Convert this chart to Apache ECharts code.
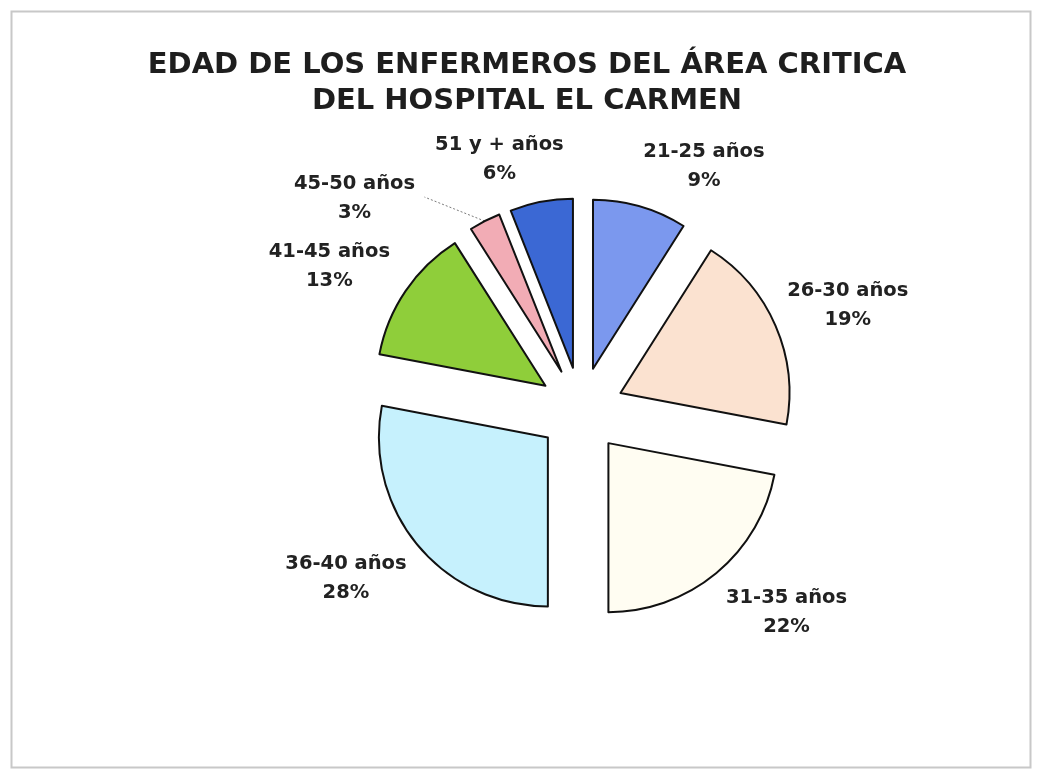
<!DOCTYPE html>
<html>
<head>
<meta charset="utf-8">
<script src="https://cdn.jsdelivr.net/npm/echarts@6/dist/echarts.min.js"></script>
<style>
  html, body { margin: 0; padding: 0; background: #fff; }
  #main { width: 1037px; height: 770px; }
</style>
</head>
<body>
<div id="main"></div>
<script>
// datos
const categories = ['21-25 años', '26-30 años', '31-35 años', '36-40 años', '41-45 años', '45-50 años', '51 y + años'];
const percentages = [9, 19, 22, 28, 13, 3, 6];
const chartTitle = 'EDAD DE LOS ENFERMEROS DEL ÁREA CRITICA\nDEL HOSPITAL EL CARMEN';

// estilo de cada porcion
const sliceColors = ['#7b98ee', '#fbe2d0', '#fffdf2', '#c6f1fd', '#8fce3a', '#f2acb5', '#3b68d4'];
// ajuste fino de las etiquetas (px)
const labelShiftX = [-9, -7, -6, 6, 2, 0, 30];
const labelShiftY = [-30, -16, 31, 27, -19, 1, -32];

function generateChart(dom) {
    let myChart = echarts.init(dom);

    let pieData = categories.map(function (name, i) {
        let item = {
            name: name,
            value: percentages[i],
            selected: true,
            itemStyle: { color: sliceColors[i] }
        };
        // solo 45-50 lleva linea guia
        if (i === 5) {
            item.labelLine = {
                show: true,
                length: 27,
                length2: 48,
                lineStyle: { color: '#7a7a7a', width: 1, type: [2, 2] }
            };
        }
        return item;
    });

    let option = {
        animation: false,
        backgroundColor: '#fff',
        graphic: [
            {
                type: 'rect',
                shape: { x: 11.5, y: 11.5, width: 1019, height: 756 },
                style: { fill: 'none', stroke: '#c8c8c8', lineWidth: 2 },
                silent: true
            },
            {
                // titulo centrado como en el original
                type: 'text',
                x: 527,
                y: 47,
                silent: true,
                style: {
                    text: chartTitle,
                    align: 'center',
                    verticalAlign: 'top',
                    fontFamily: 'DejaVu Sans',
                    fontWeight: 'bold',
                    fontSize: 29,
                    lineHeight: 36,
                    fill: '#1e1e1e'
                }
            }
        ],
        series: [
            {
                type: 'pie',
                center: [581, 410],
                radius: 169,
                startAngle: 90,
                clockwise: true,
                selectedMode: 'multiple',
                selectedOffset: 43,
                avoidLabelOverlap: false,
                emphasis: { disabled: true },
                itemStyle: {
                    borderColor: '#111',
                    borderWidth: 2
                },
                label: {
                    show: true,
                    position: 'outside',
                    formatter: function (p) {
                        return '{t|' + p.name + '}\n{t|' + Math.round(p.percent) + '%}';
                    },
                    rich: {
                        t: {
                            width: 130,
                            align: 'center',
                            fontFamily: 'DejaVu Sans',
                            fontWeight: 'bold',
                            fontSize: 19.5,
                            lineHeight: 29,
                            color: '#222'
                        }
                    }
                },
                labelLine: {
                    show: false,
                    length: 10,
                    length2: 0
                },
                labelLayout: function (params) {
                    let i = params.dataIndex;
                    let ret = { dx: labelShiftX[i], dy: labelShiftY[i] };
                    let pts = params.labelLinePoints;
                    if (i === 5 && pts && pts.length === 3) {
                        // linea recta como en Excel
                        let mid = [(pts[0][0] + pts[2][0]) / 2, (pts[0][1] + pts[2][1]) / 2];
                        ret.labelLinePoints = [pts[0], mid, pts[2]];
                    }
                    return ret;
                },
                data: pieData
            }
        ]
    };

    myChart.setOption(option);
}

generateChart(document.getElementById('main'));
</script>
</body>
</html>
